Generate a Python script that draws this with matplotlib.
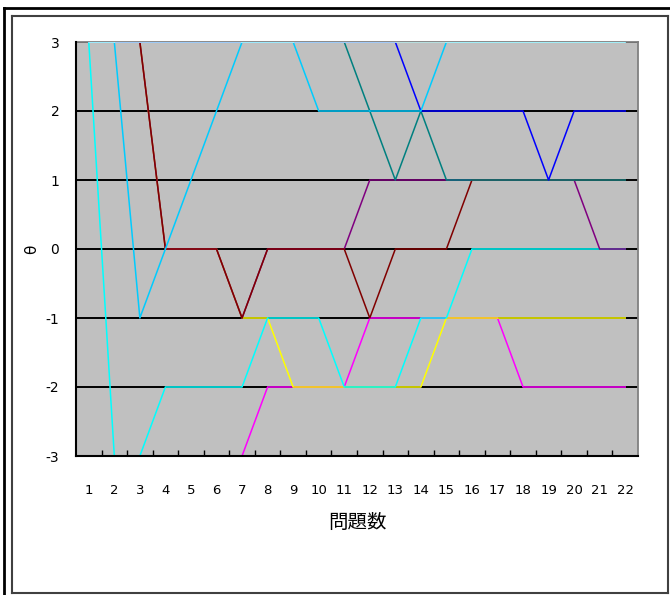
import numpy as np
import matplotlib
matplotlib.use("Agg")
import matplotlib.pyplot as plt
from matplotlib.lines import Line2D

plt.rcParams['font.family'] = ['DejaVu Sans', 'Noto Sans CJK JP']

# data: theta estimate after each question, one list per examinee
questions = list(range(1, 23))
magenta = [-3, -3, -3, -3, -3, -3, -3, -2, -2, -2, -2, -1, -1, -1, -1, -1, -1, -2, -2, -2, -2, -2]
yellow = [3, 3, 3, 0, 0, 0, -1, -1, -2, -2, -2, -2, -2, -2, -1, -1, -1, -1, -1, -1, -1, -1]
cyan = [3, -3, -3, -2, -2, -2, -2, -1, -1, -1, -2, -2, -2, -1, -1, 0, 0, 0, 0, 0, 0, 0]
purple = [3, 3, 3, 0, 0, 0, -1, 0, 0, 0, 0, 1, 1, 1, 1, 1, 1, 1, 1, 1, 0, 0]
darkred = [3, 3, 3, 0, 0, 0, -1, 0, 0, 0, 0, -1, 0, 0, 0, 1, 1, 1, 1, 1, 1, 1]
teal = [3, 3, 3, 3, 3, 3, 3, 3, 3, 3, 3, 2, 1, 2, 1, 1, 1, 1, 1, 1, 1, 1]
blue = [3, 3, 3, 3, 3, 3, 3, 3, 3, 3, 3, 3, 3, 2, 2, 2, 2, 2, 1, 2, 2, 2]
skyblue = [3, 3, -1, 0, 1, 2, 3, 3, 3, 2, 2, 2, 2, 2, 3, 3, 3, 3, 3, 3, 3, 3]
lightturq = [3] * 22

series = [
    (magenta, '#FF00FF'),
    (yellow, '#FFFF00'),
    (cyan, '#00FFFF'),
    (purple, '#800080'),
    (darkred, '#800000'),
    (teal, '#008080'),
    (blue, '#0000FF'),
    (skyblue, '#00CCFF'),
    (lightturq, '#CCFFFF'),
]
y_ticks = [-3, -2, -1, 0, 1, 2, 3]

W, H = 670, 595
fig = plt.figure(figsize=(W / 100, H / 100), dpi=100)
fig.patch.set_facecolor('white')

def fx(px):
    return px / W

def fy(py):
    return 1 - py / H

ax = fig.add_axes([fx(76), fy(456), fx(638) - fx(76), fy(42) - fy(456)])
ax.set_facecolor('#C0C0C0')

# horizontal gridlines
for v in y_ticks[1:]:
    ax.axhline(v, color='black', lw=1.4, zorder=1)

for vals, col in series:
    ax.plot(questions, vals, color=col, lw=1.1, zorder=3)

ax.set_xlim(0.5, 22.5)
ax.set_ylim(-3, 3)
ax.set_xticks(questions)
ax.set_xticklabels([str(q) for q in questions], fontsize=9.5)
ax.set_xticks(np.arange(1.5, 22, 1), minor=True)
ax.tick_params(axis='x', which='major', length=0, pad=20)
ax.tick_params(axis='x', which='minor', direction='in', length=4, width=1, color='black')
ax.set_yticks(y_ticks)
ax.set_yticklabels([str(v) for v in y_ticks], fontsize=10)
ax.tick_params(axis='y', length=0, pad=12)

for side in ['left', 'bottom']:
    ax.spines[side].set_color('black')
    ax.spines[side].set_linewidth(1.5)
    ax.spines[side].set_zorder(5)
ax.spines['right'].set_color('#808080')
ax.spines['right'].set_linewidth(1.3)
ax.spines['top'].set_color('#808080')
ax.spines['top'].set_linewidth(1.3)
ax.spines['top'].set_zorder(1)

ax.set_xlabel('問題数', fontsize=14, family=['Noto Sans CJK JP', 'DejaVu Sans'], labelpad=11)
ax.set_ylabel('θ', fontsize=11, labelpad=5)

# chart area frames
def frame_line(x0, y0, x1, y1, col, lw):
    fig.add_artist(Line2D([fx(x0), fx(x1)], [fy(y0), fy(y1)], color=col, lw=lw,
                          transform=fig.transFigure))

frame_line(4, 8, 4, 600, 'black', 2)
frame_line(4, 8, 680, 8, 'black', 2)
frame_line(12, 16, 668, 16, '#404040', 1.5)
frame_line(12, 16, 12, 593, '#404040', 1.5)
frame_line(12, 593, 668, 593, '#404040', 1.5)
frame_line(668, 16, 668, 593, '#404040', 1.5)

fig.savefig('out.png', dpi=100)
